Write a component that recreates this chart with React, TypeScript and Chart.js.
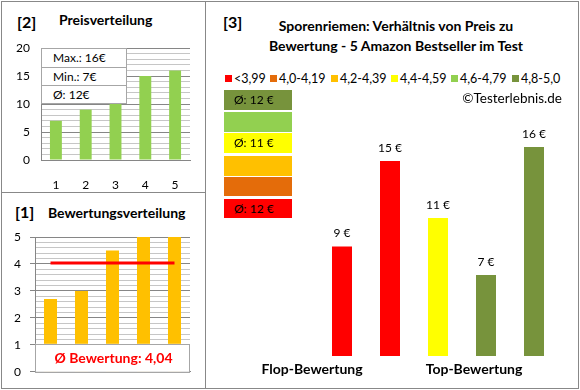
import React, { useEffect, useRef } from 'react';
import { Chart, registerables } from 'chart.js';

Chart.register(...registerables);

const FONT = 'Lato';

// ---- Panel [2] Preisverteilung ----
const priceCategories = ['1', '2', '3', '4', '5'];
const priceValues = [7, 9, 10, 15, 16];
const priceStats = ['Max.: 16€', 'Min.: 7€', 'Ø: 12€'];

// ---- Panel [1] Bewertungsverteilung ----
const ratingCategories = ['1', '2', '3', '4', '5'];
const ratingValues = [2.7, 3.0, 4.5, 5.0, 5.0];
const ratingAverage = 4.04;
const ratingAverageLabel = 'Ø Bewertung: 4,04';

// ---- Panel [3] Preis zu Bewertung ----
const compareTitle = ['Sporenriemen: Verhältnis von Preis zu', 'Bewertung - 5 Amazon Bestseller im Test'];
const compareCategories = ['', '', 'Produkt 1', 'Produkt 2', 'Produkt 3', 'Produkt 4', 'Produkt 5'];
const comparePrices = [null, null, 9, 15, 11, 7, 16];
const compareBand = [-1, -1, 0, 0, 3, 5, 5];
const bandLabels = ['<3,99', '4,0-4,19', '4,2-4,39', '4,4-4,59', '4,6-4,79', '4,8-5,0'];
const bandColors = ['#FF0000', '#E46C0A', '#FFC000', '#FFFF00', '#92D050', '#77933C'];
const bandAverages = ['Ø: 12 €', '', '', 'Ø: 11 €', '', 'Ø: 12 €'];
const groupLabels = ['Flop-Bewertung', 'Top-Bewertung'];
const copyright = '©Testerlebnis.de';

const GRID_MAJOR = '#868686';
const GRID_MINOR = '#c6c6c6';

type Anchor = 'center' | 'left' | 'right';
function T(props: { x: number; y: number; size?: number; bold?: boolean; anchor?: Anchor; color?: string; children: any }) {
  const { x, y, size = 13, bold = false, anchor = 'left', color = '#000', children } = props;
  const tr = anchor === 'center' ? 'translate(-50%,-50%)' : anchor === 'right' ? 'translate(-100%,-50%)' : 'translate(0,-50%)';
  return (
    <div style={{ position: 'absolute', left: x, top: y, transform: tr, fontSize: size, fontWeight: bold ? 700 : 400, lineHeight: 1, whiteSpace: 'nowrap', color }}>
      {children}
    </div>
  );
}

function useChart(ref: any, factory: () => any) {
  useEffect(() => {
    const chart = new Chart(ref.current, factory());
    return () => chart.destroy();
  }, []);
}

const isMajor = (v: number, step: number) => Math.abs(v / step - Math.round(v / step)) < 1e-6;

function PriceChart() {
  const ref = useRef<HTMLCanvasElement>(null);
  useChart(ref, () => ({
    type: 'bar',
    data: {
      labels: priceCategories,
      datasets: [{ data: priceValues, backgroundColor: '#92D050', barPercentage: 0.4, categoryPercentage: 1 }],
    },
    options: {
      animation: false,
      responsive: false,
      layout: { padding: { left: 0, right: 14, top: 48, bottom: 0 } },
      plugins: { legend: { display: false }, tooltip: { enabled: false } },
      scales: {
        x: {
          grid: { display: false },
          border: { color: GRID_MAJOR },
          ticks: { font: { family: FONT, size: 12 }, color: '#000', padding: 10 },
          afterFit: (s: any) => { s.height = 32; },
        },
        y: {
          min: 0,
          max: 20,
          ticks: {
            stepSize: 1,
            autoSkip: false,
            callback: (v: any) => (isMajor(v, 5) ? String(v) : ''),
            font: { family: FONT, size: 12 },
            color: '#000',
            padding: 11,
          },
          grid: { drawTicks: false, color: (c: any) => (c.tick && isMajor(c.tick.value, 5) ? GRID_MAJOR : GRID_MINOR) },
          border: { color: GRID_MAJOR },
          afterFit: (s: any) => { s.width = 41; },
        },
      },
    },
  }));
  return <canvas ref={ref} width={204} height={192} style={{ position: 'absolute', left: 0, top: 0, width: 204, height: 192 }} />;
}

function RatingChart() {
  const ref = useRef<HTMLCanvasElement>(null);
  useChart(ref, () => ({
    type: 'bar',
    data: {
      labels: ratingCategories,
      datasets: [
        {
          type: 'line',
          data: ratingCategories.map(() => ratingAverage),
          borderColor: '#FF0000',
          borderWidth: 3,
          pointRadius: 0,
          order: 0,
        },
        { type: 'bar', data: ratingValues, backgroundColor: '#FFC000', barPercentage: 0.42, categoryPercentage: 1, order: 1 },
      ],
    },
    options: {
      animation: false,
      responsive: false,
      layout: { padding: { left: 0, right: 14, top: 44, bottom: 15 } },
      plugins: { legend: { display: false }, tooltip: { enabled: false } },
      scales: {
        x: {
          grid: { display: false },
          border: { color: GRID_MAJOR },
          ticks: { display: false },
          afterFit: (s: any) => { s.height = 0; },
        },
        y: {
          min: 0,
          max: 5,
          ticks: {
            stepSize: 0.2,
            autoSkip: false,
            callback: (v: any) => (isMajor(v, 1) ? String(Math.round(v)) : ''),
            font: { family: FONT, size: 12 },
            color: '#000',
            padding: 9,
          },
          grid: {
            tickLength: 5,
            color: (c: any) => (c.tick && isMajor(c.tick.value, 1) ? GRID_MAJOR : GRID_MINOR),
            tickColor: (c: any) => (c.tick && isMajor(c.tick.value, 1) ? GRID_MAJOR : 'rgba(0,0,0,0)'),
          },
          border: { color: GRID_MAJOR },
          afterFit: (s: any) => { s.width = 35; },
        },
      },
    },
    plugins: [
      {
        id: 'avgBox',
        afterDatasetsDraw(chart: any) {
          const { ctx, chartArea } = chart;
          const { left, right, bottom } = chartArea;
          const h = 28;
          const top = bottom - h;
          ctx.save();
          ctx.fillStyle = '#fff';
          ctx.fillRect(left, top, right - left, h);
          ctx.strokeStyle = '#a6a6a6';
          ctx.lineWidth = 1;
          ctx.strokeRect(Math.round(left) + 0.5, Math.round(top) + 0.5, Math.round(right - left) - 1, h);
          ctx.fillStyle = '#FF0000';
          ctx.font = `bold 14px ${FONT}`;
          ctx.textAlign = 'center';
          ctx.textBaseline = 'middle';
          ctx.fillText(ratingAverageLabel, (left + right) / 2 + 1, top + h / 2 + 1);
          ctx.restore();
        },
      },
    ],
  }));
  return <canvas ref={ref} width={204} height={195} style={{ position: 'absolute', left: 0, top: 193, width: 204, height: 195 }} />;
}

function CompareChart() {
  const ref = useRef<HTMLCanvasElement>(null);
  useChart(ref, () => ({
    type: 'bar',
    data: {
      labels: compareCategories,
      datasets: [
        {
          data: comparePrices,
          backgroundColor: compareBand.map((b) => (b >= 0 ? bandColors[b] : 'rgba(0,0,0,0)')),
          barPercentage: 20 / 48,
          categoryPercentage: 1,
        },
      ],
    },
    options: {
      animation: false,
      responsive: false,
      layout: { padding: { left: 17, right: 20, top: 90, bottom: 32 } },
      plugins: { legend: { display: false }, tooltip: { enabled: false } },
      scales: {
        x: { display: false },
        y: { display: false, min: 1.3, max: 20 },
      },
    },
    plugins: [
      {
        id: 'barLabels',
        afterDatasetsDraw(chart: any) {
          const { ctx } = chart;
          const meta = chart.getDatasetMeta(0);
          ctx.save();
          ctx.fillStyle = '#000';
          ctx.font = `12px ${FONT}`;
          ctx.textAlign = 'center';
          ctx.textBaseline = 'middle';
          meta.data.forEach((el: any, i: number) => {
            const v = comparePrices[i];
            if (v == null) return;
            ctx.fillText(`${v} €`, el.x, el.y - 13);
          });
          ctx.restore();
        },
      },
    ],
  }));
  return <canvas ref={ref} width={373} height={388} style={{ position: 'absolute', left: 205, top: 0, width: 373, height: 388 }} />;
}

const legendSquareX = [225, 270, 331, 391, 451, 512];
const bandBoxTops = [90, 112, 133, 156, 177, 199];
const bandBoxHeights = [20, 20, 20, 20, 19, 19];

export default function App() {
  const order = [5, 4, 3, 2, 1, 0];
  return (
    <div style={{ position: 'fixed', left: 0, top: 0, width: 580, height: 390, background: '#fff', fontFamily: FONT, color: '#000', overflow: 'hidden' }}>
      {/* borders */}
      <div style={{ position: 'absolute', left: 1, top: 1, width: 578, height: 388, boxSizing: 'border-box', border: '1px solid #888' }} />
      <div style={{ position: 'absolute', left: 205, top: 1, width: 1, height: 388, background: '#888' }} />
      <div style={{ position: 'absolute', left: 1, top: 192, width: 205, height: 1, background: '#888' }} />

      {/* panel [2] */}
      <T x={17} y={21.5} size={16} bold>[2]</T>
      <T x={59} y={20} size={14} bold>Preisverteilung</T>
      <PriceChart />
      <div style={{ position: 'absolute', left: 41, top: 48, width: 86, height: 56, boxSizing: 'border-box', border: '1px solid #a6a6a6', background: '#fff' }}>
        {priceStats.map((s, i) => (
          <div key={i} style={{ height: 18, boxSizing: 'border-box', borderTop: i > 0 ? '1px solid #a6a6a6' : 'none', fontSize: 12, lineHeight: '18px', paddingLeft: 11 }}>{s}</div>
        ))}
      </div>

      {/* panel [1] */}
      <T x={15} y={212} size={16} bold>[1]</T>
      <T x={48} y={213} size={14} bold>Bewertungsverteilung</T>
      <RatingChart />

      {/* panel [3] */}
      <T x={223} y={22} size={16} bold>[3]</T>
      <T x={396} y={26} size={14} bold anchor="center">{compareTitle[0]}</T>
      <T x={396} y={46} size={14} bold anchor="center">{compareTitle[1]}</T>
      {bandLabels.map((l, i) => (
        <React.Fragment key={i}>
          <div style={{ position: 'absolute', left: legendSquareX[i], top: 75, width: 7, height: 7, background: bandColors[i] }} />
          <T x={legendSquareX[i] + 9} y={78.5} size={12.5}>{l}</T>
        </React.Fragment>
      ))}
      <T x={562} y={98.5} size={13.5} anchor="right">{copyright}</T>
      {order.map((b, i) => (
        <div key={b} style={{ position: 'absolute', left: 224, top: bandBoxTops[i], width: 68, height: bandBoxHeights[i], background: bandColors[b] }}>
          {bandAverages[b] ? (
            <div style={{ position: 'absolute', left: 10, top: '50%', transform: 'translateY(-50%)', fontSize: 12, lineHeight: 1, whiteSpace: 'nowrap' }}>{bandAverages[b]}</div>
          ) : null}
        </div>
      ))}
      <CompareChart />
      <T x={312} y={369} size={14} bold anchor="center">{groupLabels[0]}</T>
      <T x={474} y={369} size={14} bold anchor="center">{groupLabels[1]}</T>
    </div>
  );
}
